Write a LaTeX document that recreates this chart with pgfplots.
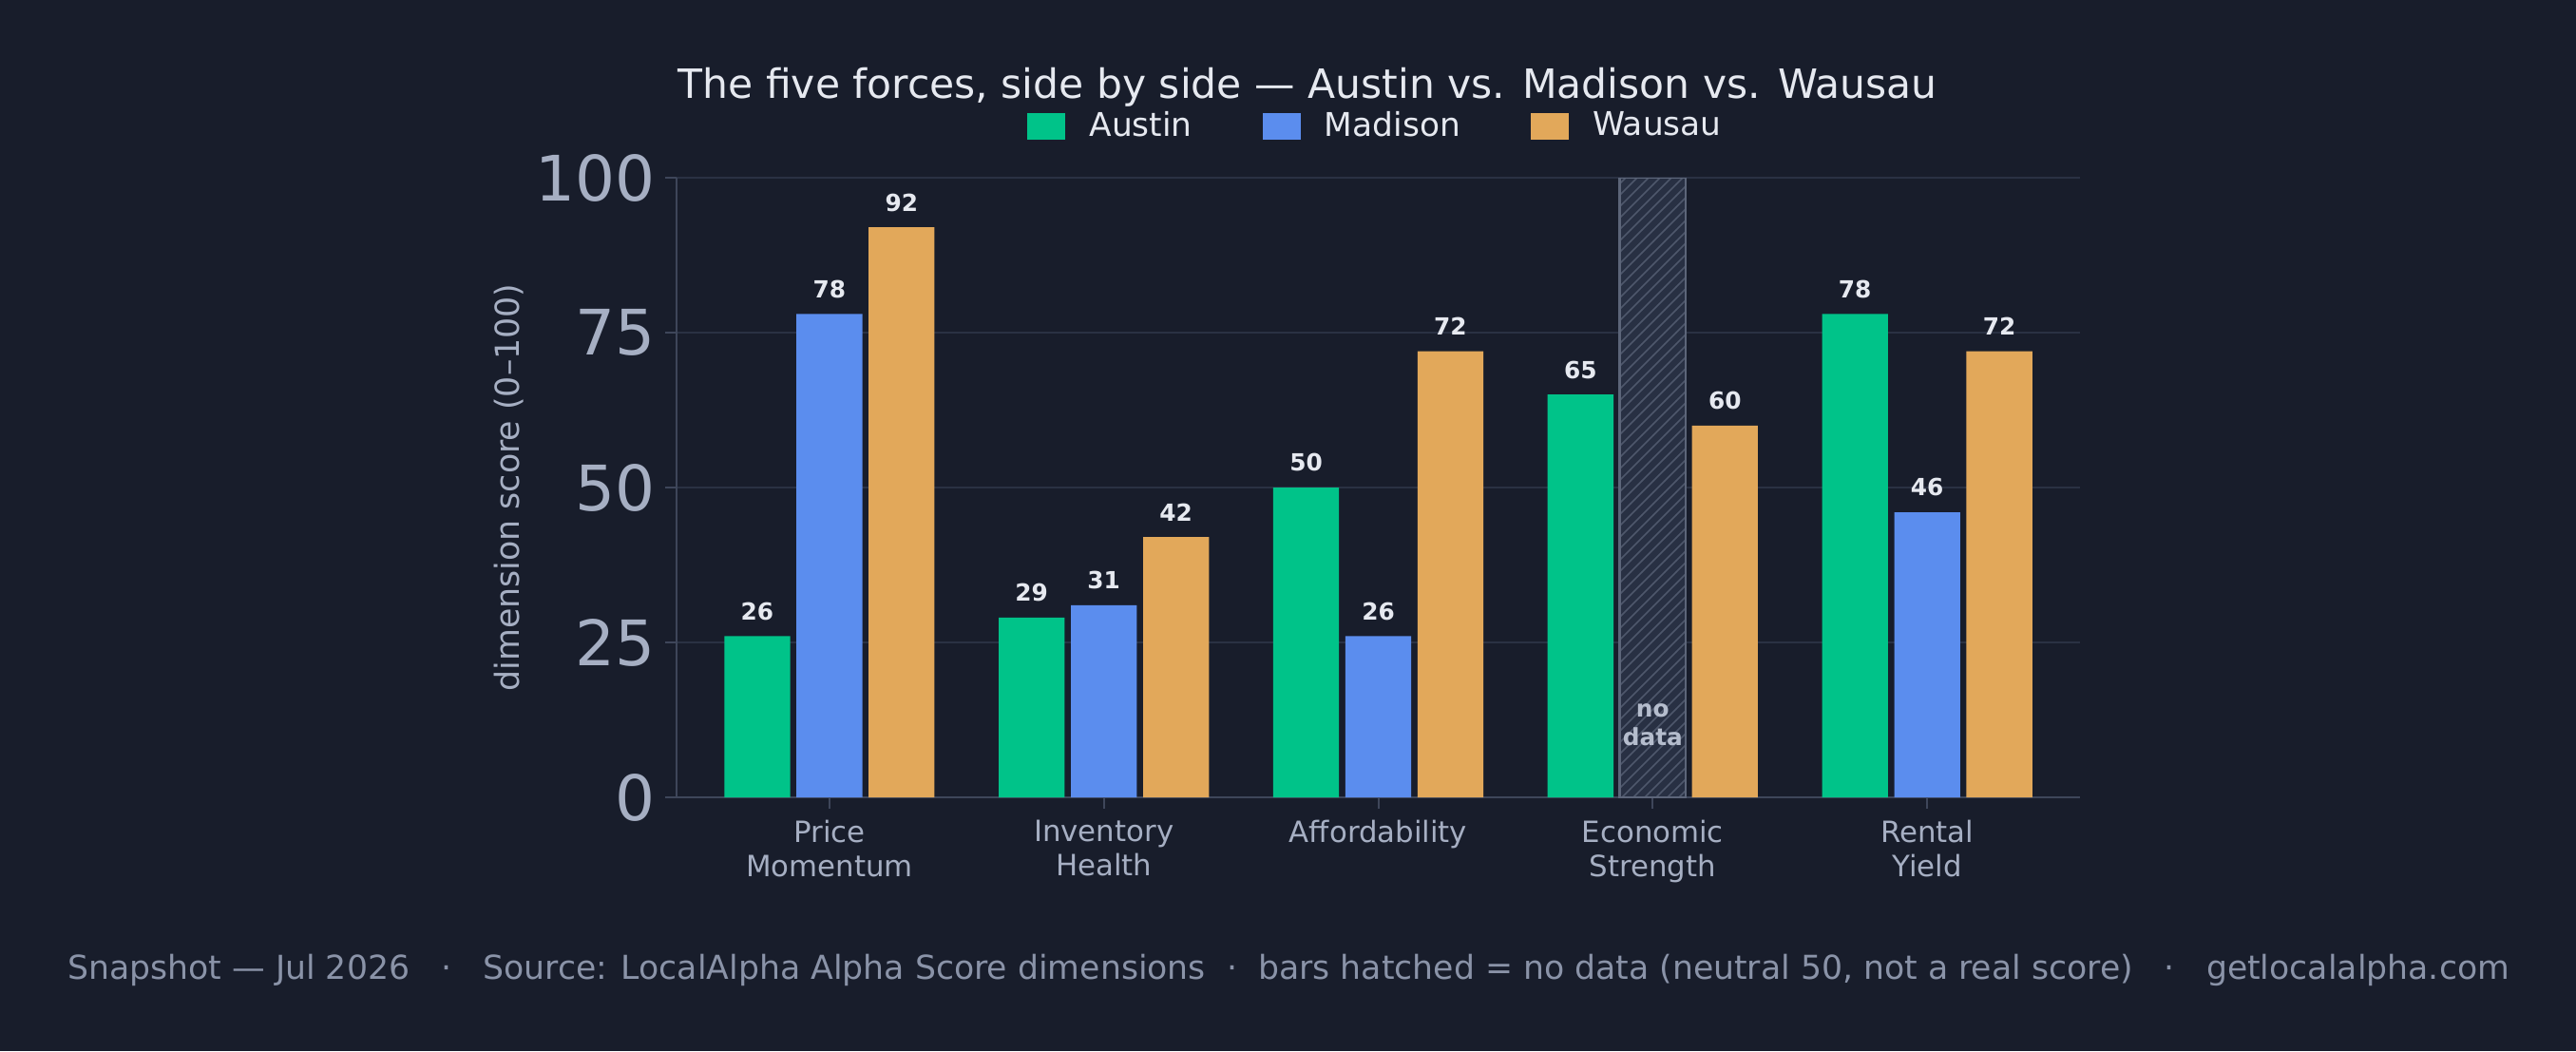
\documentclass[border=0pt]{standalone}
\usepackage{fontspec}
\setmainfont{DejaVu Sans}
\usepackage{pgfplots}
\pgfplotsset{compat=1.18}
\usetikzlibrary{patterns}
\definecolor{bg}{HTML}{181D2B}
\definecolor{cA}{HTML}{00C389}
\definecolor{cM}{HTML}{5B8DEE}
\definecolor{cW}{HTML}{E2A85A}
\definecolor{gridc}{HTML}{2A3143}
\definecolor{spinec}{HTML}{3E465A}
\definecolor{tickc}{HTML}{A6AFC3}
\definecolor{titlec}{HTML}{E6E9F0}
\definecolor{footc}{HTML}{8A93A8}
\definecolor{hatchfill}{HTML}{283043}
\definecolor{hatchline}{HTML}{4E576B}
\definecolor{hatchedge}{HTML}{5C6579}
\definecolor{nodatac}{HTML}{B5BDCD}
\begin{document}
\begin{tikzpicture}
\fill[bg] (0,0) rectangle (677.75pt,276.5pt);
\begin{axis}[
  at={(178pt,66.75pt)}, anchor=south west,
  scale only axis, width=369.25pt, height=163pt,
  xmin=-0.557, xmax=4.557, ymin=0, ymax=100,
  axis lines*=left,
  axis line style={spinec, line width=0.5pt},
  every outer x axis line/.append style={-}, every outer y axis line/.append style={-},
  xtick={0,1,2,3,4},
  xticklabels={Price\\Momentum, Inventory\\Health, Affordability, Economic\\Strength, Rental\\Yield},
  xticklabel style={align=center, text=tickc, font=\fontsize{7.7}{9}\selectfont, anchor=north, yshift=0.5pt},
  ytick={0,25,50,75,100},
  yticklabel style={text=tickc, font=\fontsize{16.5}{18}\selectfont, xshift=0.8pt},
  /pgf/number format/assume math mode=true,
  major tick length=3pt,
  tick style={spinec, line width=0.5pt},
  xtick pos=bottom, ytick pos=left,
  tick align=outside,
  ymajorgrids, grid style={gridc, line width=0.5pt},
  ylabel={dimension score (0–100)},
  every axis y label/.style={at={(rel axis cs:-0.1192,0.5)}, rotate=90, anchor=center,
    text=tickc, font=\fontsize{8.7}{10}\selectfont},
  legend columns=3,
  legend style={at={(0.5,1.0)}, anchor=south, yshift=5.3pt, draw=none, fill=none, text=titlec,
    font=\fontsize{8.6}{10}\selectfont,
    /tikz/every odd column/.append style={column sep=4.3pt},
    /tikz/every even column/.append style={column sep=16.5pt}},
  legend image code/.code={\fill[#1] (0pt,-3.5pt) rectangle (10pt,3.5pt);},
  nodes near coords,
  nodes near coords style={anchor=south, inner sep=0pt, yshift=4pt, text=titlec, font=\fontsize{6.2}{7}\bfseries\selectfont},
  point meta=explicit symbolic,
]
\addplot[ybar, bar width=0.24, bar shift=0, fill=cA, draw=none] coordinates {
  (-0.263,26) [26] (0.737,29) [29] (1.737,50) [50] (2.737,65) [65] (3.737,78) [78]};
\addlegendentry{Austin}
\addplot[ybar, bar width=0.24, bar shift=0, fill=cM, draw=none] coordinates {
  (0,78) [78] (1,31) [31] (2,26) [26] (4,46) [46]};
\addlegendentry{Madison}
\addplot[ybar, bar width=0.24, bar shift=0, fill=cW, draw=none] coordinates {
  (0.263,92) [92] (1.263,42) [42] (2.263,72) [72] (3.263,60) [60] (4.263,72) [72]};
\addlegendentry{Wausau}
\addplot[ybar, bar width=0.24, bar shift=0, fill=hatchfill, draw=hatchedge, line width=0.6pt,
  postaction={pattern=north east lines, pattern color=hatchline},
  nodes near coords={}, forget plot] coordinates {(3,100) []};
\node[align=center, text=nodatac, font=\fontsize{6.2}{7.3}\bfseries\selectfont] at (axis cs:3,11.7) {no\\data};
\end{axis}
\node[text=titlec, font=\fontsize{10.62}{12}\selectfont] at (344pt,253.6pt) {The five forces, side by side — Austin vs. Madison vs. Wausau};
\node[text=footc, font=\fontsize{8.67}{10}\selectfont] at (339pt,21.35pt) {Snapshot — Jul 2026\ \ \ ·\ \ \ Source: LocalAlpha Alpha Score dimensions\ \ ·\ \ bars hatched = no data (neutral 50, not a real score)\ \ \ ·\ \ \ getlocalalpha.com};
\pgfresetboundingbox
\path[use as bounding box] (0,0) rectangle (677.75pt,276.5pt);
\end{tikzpicture}
\end{document}
